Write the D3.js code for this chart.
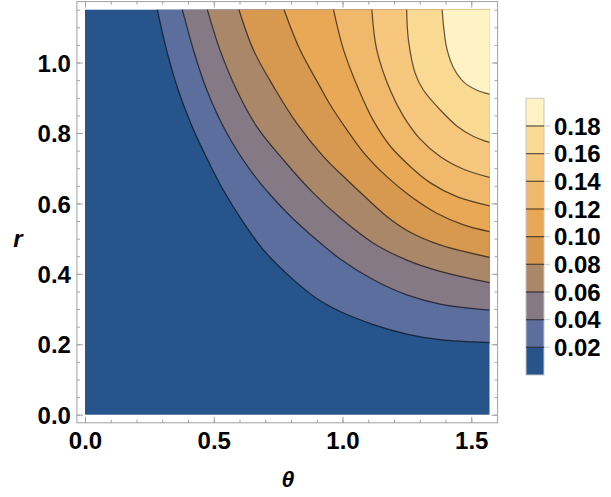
<!DOCTYPE html>
<html>
<head>
<meta charset="utf-8">
<script src="https://cdn.jsdelivr.net/npm/d3@7"></script>
<style>
body{margin:0;background:#fff}
text{font-family:"Liberation Sans",Arial,sans-serif}
</style>
</head>
<body>
<div id="chart"></div>
<script>
// contour levels and the band colours between them (lowest band first)
const levels = [0.02,0.04,0.06,0.08,0.10,0.12,0.14,0.16,0.18]
const bandColors = ["#26548b","#5b6e9e","#857985","#aa8769","#d79950","#e9a855","#f0b86a","#f6c77d","#fad993","#fff2c4"]

const xMajor = [0,0.5,1.0,1.5]
const yMajor = [0,0.2,0.4,0.6,0.8,1.0]

// contour lines as [theta, r], from top edge to right edge
const c002 = [[0.281,1.15],[0.317,1.035],[0.362,0.922],[0.421,0.81],[0.479,0.72],[0.537,0.638],[0.615,0.546],[0.693,0.468],[0.796,0.392],[0.900,0.33],[0.991,0.293],[1.12,0.256],[1.25,0.229],[1.379,0.213],[1.571,0.205]]
const c004 = [[0.378,1.15],[0.421,1.036],[0.473,0.922],[0.551,0.799],[0.641,0.695],[0.715,0.628],[0.796,0.565],[0.900,0.496],[0.991,0.442],[1.12,0.383],[1.25,0.34],[1.379,0.314],[1.571,0.297]]
const c006 = [[0.475,1.15],[0.524,1.036],[0.589,0.922],[0.667,0.818],[0.770,0.724],[0.887,0.629],[0.991,0.559],[1.12,0.487],[1.25,0.439],[1.379,0.407],[1.571,0.375]]
const c008 = [[0.598,1.15],[0.654,1.036],[0.732,0.932],[0.822,0.828],[0.926,0.733],[1.017,0.667],[1.081,0.623],[1.172,0.563],[1.263,0.518],[1.379,0.482],[1.571,0.447]]
const c010 = [[0.773,1.15],[0.835,1.036],[0.913,0.931],[0.952,0.88],[1.017,0.809],[1.081,0.745],[1.172,0.676],[1.263,0.621],[1.366,0.572],[1.47,0.539],[1.571,0.52]]
const c012 = [[0.965,1.15],[1.004,1.036],[1.062,0.925],[1.12,0.835],[1.185,0.763],[1.263,0.705],[1.34,0.659],[1.444,0.619],[1.571,0.593]]
const c014 = [[1.114,1.15],[1.133,1.036],[1.185,0.922],[1.237,0.847],[1.301,0.783],[1.379,0.733],[1.47,0.697],[1.571,0.674]]
const c016 = [[1.249,1.15],[1.256,1.064],[1.282,0.97],[1.314,0.922],[1.379,0.866],[1.444,0.82],[1.509,0.79],[1.571,0.773]]
const c018 = [[1.387,1.15],[1.393,1.1],[1.405,1.04],[1.431,0.985],[1.47,0.945],[1.52,0.922],[1.571,0.91]]
const contours = [c002,c004,c006,c008,c010,c012,c014,c016,c018]

const thetaMax = Math.PI/2, rMax = 1.15
const padX = 0.02*thetaMax, padY = 0.02*rMax

const svg = d3.select("#chart").append("svg").attr("width",611).attr("height",497)

const x = d3.scaleLinear().domain([0,thetaMax]).range([85,489.5])
const y = d3.scaleLinear().domain([0,rMax]).range([414.7,9.7])

// filled bands
svg.append("rect").attr("x",x(0)).attr("y",y(rMax))
  .attr("width",x(thetaMax)-x(0)).attr("height",y(0)-y(rMax))
  .attr("fill",bandColors[0])

const smooth = d3.curveCatmullRom.alpha(0.5)
const area = d3.area().x(d => x(d[0])).y0(d => y(d[1])).y1(y(rMax)).curve(smooth)
const line = d3.line().x(d => x(d[0])).y(d => y(d[1])).curve(smooth)

svg.selectAll(".band").data(contours).enter().append("path").attr("class","band")
  .attr("d",area).attr("fill",(d,i) => bandColors[i+1])

svg.selectAll(".cline").data(contours).enter().append("path").attr("class","cline")
  .attr("d",line).attr("fill","none").attr("stroke","#000").attr("stroke-opacity",0.62).attr("stroke-width",1.25)

// frame
const fx0 = x(-padX), fx1 = x(thetaMax+padX), fy0 = y(-padY), fy1 = y(rMax+padY)
svg.append("rect").attr("x",fx0).attr("y",fy1).attr("width",fx1-fx0).attr("height",fy0-fy1)
  .attr("fill","none").attr("stroke","#a0a0a0").attr("stroke-width",1)

function frameAxis(axis, tx, ty, values, size, labels){
  const g = svg.append("g").attr("transform",`translate(${tx},${ty})`)
    .call(axis.tickValues(values).tickSizeInner(-size).tickSizeOuter(0)
      .tickFormat(labels ? d3.format(".1f") : ""))
  g.select(".domain").remove()
  g.selectAll("line").attr("stroke","#a0a0a0")
  return g
}

const xMinor = d3.range(0,16).map(i => i/10)
const yMinor = d3.range(0,24).map(i => i/20)

frameAxis(d3.axisBottom(x),0,fy0,xMinor,3,false)
frameAxis(d3.axisTop(x),0,fy1,xMinor,3,false)
frameAxis(d3.axisLeft(y),fx0,0,yMinor,3,false)
frameAxis(d3.axisRight(y),fx1,0,yMinor,3,false)
frameAxis(d3.axisTop(x),0,fy1,xMajor,6,false)
frameAxis(d3.axisRight(y),fx1,0,yMajor,6,false)

const xg = frameAxis(d3.axisBottom(x),0,fy0,xMajor,6,true)
xg.selectAll("text").attr("y",9).attr("dy","0.72em").attr("font-size",24).attr("font-weight","bold").attr("fill","#000")
const yg = frameAxis(d3.axisLeft(y),fx0,0,yMajor,6,true)
yg.selectAll("text").attr("x",-6).attr("dy","0.36em").attr("font-size",24).attr("font-weight","bold").attr("fill","#000")

// axis labels
svg.append("text").attr("x",288).attr("y",487).attr("text-anchor","middle")
  .attr("font-size",23).attr("font-weight","bold").attr("font-style","italic").text("θ")
svg.append("text").attr("x",18).attr("y",247).attr("text-anchor","middle")
  .attr("font-size",24).attr("font-weight","bold").attr("font-style","italic").text("r")

// legend
const ly = d3.scaleLinear().domain([0,0.2]).range([375,98.3])
const lx0 = 526, lw = 18
const legend = svg.append("g")
legend.selectAll("rect").data(bandColors).enter().append("rect")
  .attr("x",lx0).attr("width",lw)
  .attr("y",(d,i) => ly((i+1)*0.02)).attr("height",(d,i) => ly(i*0.02)-ly((i+1)*0.02))
  .attr("fill",d => d)
legend.append("rect").attr("x",lx0).attr("y",ly(0.2)).attr("width",lw).attr("height",ly(0)-ly(0.2))
  .attr("fill","none").attr("stroke","#c8c8c8").attr("stroke-width",1)
legend.selectAll(".lline").data(levels).enter().append("line").attr("class","lline")
  .attr("x1",lx0).attr("x2",lx0+lw).attr("y1",d => ly(d)).attr("y2",d => ly(d))
  .attr("stroke","#000").attr("stroke-opacity",0.62).attr("stroke-width",1.25)
legend.selectAll(".ltick").data(levels).enter().append("line").attr("class","ltick")
  .attr("x1",lx0+lw).attr("x2",lx0+lw+6).attr("y1",d => ly(d)).attr("y2",d => ly(d))
  .attr("stroke","#c8c8c8")
legend.selectAll("text").data(levels).enter().append("text")
  .attr("x",554).attr("y",d => ly(d)).attr("dy","0.36em")
  .attr("font-size",24).attr("font-weight","bold").text(d => d3.format(".2f")(d))
</script>
</body>
</html>
